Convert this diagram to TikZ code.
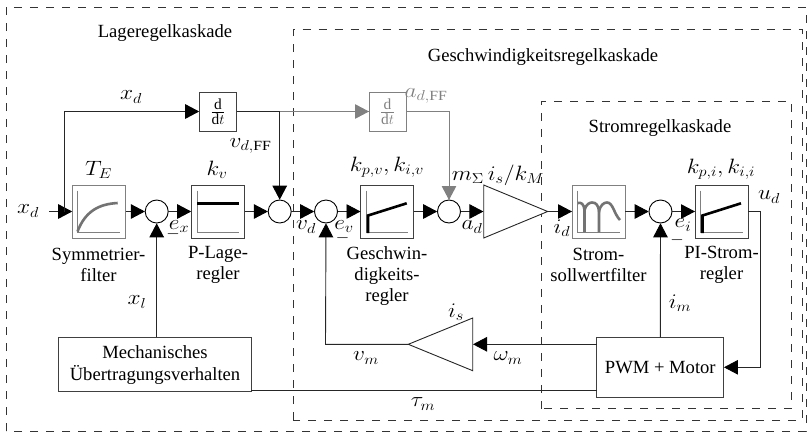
\documentclass[tikz,border=0pt]{standalone}
\usepackage{fontspec}
\setmainfont{Liberation Serif}
\usetikzlibrary{arrows.meta,calc}
\definecolor{gr}{gray}{0.5}
\newcommand\wm[1]{\scalebox{1.13}[1]{$#1$}}
\tikzset{
  x=1pt,y=-1pt,
  every node/.style={inner sep=0pt,outer sep=0pt,font=\fontsize{18.6}{21.3}\selectfont},
  line/.style={line width=0.9pt,black!85},
  arr/.style={line width=0.9pt,black!85,-{Triangle[length=14pt,width=14.5pt,color=black]},shorten >=0.3pt},
  garr/.style={line width=0.9pt,gr,-{Triangle[length=14pt,width=14.5pt]}},
  gline/.style={line width=0.9pt,gr},
  frame/.style={line width=0.9pt,black!80,dash pattern=on 8pt off 8pt},
  blockbox/.style={draw=black!75,line width=1pt,fill=white,minimum width=53pt,minimum height=53pt},
  fbox/.style={draw=gr,line width=1pt,fill=white,minimum width=53pt,minimum height=53pt},
  ddbox/.style={draw=black!75,line width=1pt,fill=white,minimum width=37pt,minimum height=39pt,font=\fontsize{22}{24}\selectfont},
  gddbox/.style={draw=gr,line width=1pt,fill=white,minimum width=37pt,minimum height=39pt,text=gr,font=\fontsize{22}{24}\selectfont},
  plainbox/.style={draw=black!75,line width=1pt,fill=white,align=center},
  sumc/.style={circle,draw=black,line width=0.9pt,fill=white,minimum size=23pt},
  mlabel/.style={font=\fontsize{20}{22}\selectfont},
  minuslabel/.style={font=\fontsize{16}{18}\selectfont},
  captext/.style={align=center,font=\fontsize{18.6}{21.3}\selectfont},
  axisl/.style={line width=1pt,gr},
  thickb/.style={line width=2.6pt,black},
  thickg/.style={line width=2.6pt,black!55},
  tri/.style={draw=black!85,line width=0.9pt,fill=white,line join=miter},
}
\begin{document}
\begin{tikzpicture}
\useasboundingbox (0,0) rectangle (807,432);
% frames
\draw[frame] (6,431) -- (6,7) -- (806,7) -- (806,431) -- cycle;
\draw[frame] (293,420) -- (293,29.5) -- (802,29.5) -- (802,420) -- cycle;
\draw[frame] (541.5,408.5) -- (541.5,101) -- (791,101) -- (791,408.5) -- cycle;
% titles
\node (t1) at (165,33) {Lageregelkaskade};
\node (t2) at (543,57) {Geschwindigkeitsregelkaskade};
\node (t3) at (660,128) {Stromregelkaskade};
% blocks
\node[fbox] (te) at (99,211.5) {};
\node[blockbox] (kv) at (218,211.5) {};
\node[blockbox] (kpv) at (387.3,211.5) {};
\node[fbox] (filt) at (598.8,211.5) {};
\node[blockbox] (pi) at (721.8,211.5) {};
\node[ddbox] (dd1) at (218,111.5) {$\frac{\mathrm{d}}{\mathrm{d}t}$};
\node[gddbox] (dd2) at (387.5,111.5) {$\frac{\mathrm{d}}{\mathrm{d}t}$};
\node[sumc] (s1) at (156.7,211.5) {};
\node[sumc] (s2) at (279.7,211.5) {};
\node[sumc] (s3) at (326,211.5) {};
\node[sumc] (s4) at (449,211.5) {};
\node[sumc] (s5) at (660.5,211.5) {};
\node[plainbox,minimum width=192.5pt,minimum height=54.5pt,align=center] (mech) at (155,364.7) {Mechanisches\\[1pt]Übertragungsverhalten};
\node[plainbox,minimum width=126.7pt,minimum height=60pt] (pwm) at (660.3,367.3) {PWM + Motor};
\coordinate (gt) at (483.7,211.5);
\coordinate (gtip) at (547.7,211.5);
\coordinate (btip) at (408.3,344.3);
\coordinate (bt) at (472.7,344.3);
\draw[tri] (483.7,185) -- (547.7,211.5) -- (483.7,238) -- cycle;
\draw[tri] (472.7,318) -- (408.3,344.3) -- (472.7,370.7) -- cycle;
% plots
\draw[axisl] (77.7,190.7) -- (77.7,232.7) -- (120,232.7);
\draw[thickg] (77.5,231.5) .. controls (85,212) and (98,204) .. (117.7,203);
\draw[axisl] (197.3,190.7) -- (197.3,232.7) -- (239.3,232.7);
\draw[thickb] (197.3,203.3) -- (239.3,203.3);
\draw[axisl] (366.3,190.7) -- (366.3,232.7) -- (408,232.7);
\draw[thickb] (368,233) -- (368,215.5) -- (406.7,203.3);
\draw[axisl] (700.8,190.7) -- (700.8,232.7) -- (742.5,232.7);
\draw[thickb] (702.5,233) -- (702.5,215.5) -- (741,203.3);
\draw[axisl] (577.7,190.7) -- (577.7,232.7) -- (620,232.7);
\draw[thickg] (578,203) .. controls (581,202) and (584,204) .. (584.5,210) -- (584.5,232);
\draw[thickg] (584.5,210) .. controls (586,204) and (590,202.5) .. (592,202.5) .. controls (596,202.5) and (598.5,205) .. (599,212) -- (599,232);
\draw[thickg] (599,212) .. controls (600,205) and (604,202.5) .. (607,202.5) .. controls (613,202.5) and (614,214) .. (620,220);
% connectors
\coordinate (in) at (49,211.5);
\coordinate (br) at (64,211.5);
\coordinate (j) at (279.7,111.5);
\coordinate (c1) at (449,111.5);
\coordinate (c2) at (325.5,344.3);
\coordinate (c3) at (156.7,337);
\draw[gline] (j) -- (dd2.west);
\draw[garr] ($(dd2.west)+(-14,0)$) -- (dd2.west);
\draw[arr] (in) -- (te.west);
\draw[arr] (br) -- (br |- dd1.west) -- (dd1.west);
\draw[arr] (te.east) -- (s1.west);
\draw[arr] (s1.east) -- (kv.west);
\draw[arr] (kv.east) -- (s2.west);
\draw[arr] (dd1.east) -- (j) -- (s2.north);
\draw[arr] (s2.east) -- (s3.west);
\draw[arr] (s3.east) -- (kpv.west);
\draw[arr] (kpv.east) -- (s4.west);
\draw[garr] (dd2.east) -- (c1) -- (s4.north);
\draw[arr] (s4.east) -- (gt);
\draw[arr] (gtip) -- (filt.west);
\draw[arr] (filt.east) -- (s5.west);
\draw[arr] (s5.east) -- (pi.west);
\draw[arr] (pi.east) -- (760,211.5) -- (760,367.3) -- (pwm.east);
\draw[arr] (pwm.north) -- (s5.south);
\draw[arr] (pwm.west |- bt) -- (bt);
\draw[arr] (btip) -- (c2) -- (s3.south);
\draw[line] (mech.east |- 0,390.7) -- (pwm.west |- 0,390.7);
\draw[arr] (c3) -- (s1.south);
% labels
\node[mlabel] (l1) at (28,211) {\wm{x_d}};
\node[mlabel] (l2) at (131,97) {\wm{x_d}};
\node[mlabel] (l3) at (98.5,170) {\wm{T_E}};
\node[mlabel] (l4) at (217,170) {\wm{k_v}};
\node[mlabel] (l5) at (250.5,146) {\wm{v_{d,\mathrm{FF}}}};
\node[mlabel,text=gr] (l6) at (426,96) {\wm{a_{d,\mathrm{FF}}}};
\node[mlabel] (l7) at (179,226.5) {\wm{e_x}};
\node[mlabel] (l8) at (306,227) {\wm{v_d}};
\node[mlabel] (l9) at (344,226.5) {\wm{e_v}};
\node[mlabel] (l10) at (472,227) {\wm{a_d}};
\node[mlabel] (l11) at (562,228.5) {\wm{i_d}};
\node[mlabel] (l12) at (683,225) {\wm{e_i}};
\node[mlabel] (l13) at (387,167) {\wm{k_{p,v},k_{i,v}}};
\node[mlabel] (l14) at (498,175) {\wm{m_\Sigma\, i_s/k_M}};
\node[mlabel] (l15) at (721,169) {\wm{k_{p,i},k_{i,i}}};
\node[mlabel] (l16) at (769,197) {\wm{u_d}};
\node[mlabel] (l17) at (137,302) {\wm{x_l}};
\node[mlabel] (l18) at (366,358) {\wm{v_m}};
\node[mlabel] (l19) at (456,312) {\wm{i_s}};
\node[mlabel] (l20) at (508,358) {\wm{\omega_m}};
\node[mlabel] (l21) at (680,303) {\wm{i_m}};
\node[mlabel] (l22) at (423,404) {\wm{\tau_m}};
\node[minuslabel] (m1) at (173,234) {$-$};
\node[minuslabel] (m2) at (342.5,238.5) {$-$};
\node[minuslabel] (m3) at (677,240.5) {$-$};
% captions
\node[captext] (c_a) at (98.5,265) {Symmetrier-\\filter};
\node[captext] (c_b) at (218,265) {P-Lage-\\regler};
\node[captext] (c_c) at (387,276) {Geschwin-\\digkeits-\\regler};
\node[captext] (c_d) at (598.5,265) {Strom-\\sollwertfilter};
\node[captext] (c_e) at (721.5,265) {PI-Strom-\\regler};
\end{tikzpicture}
\end{document}
